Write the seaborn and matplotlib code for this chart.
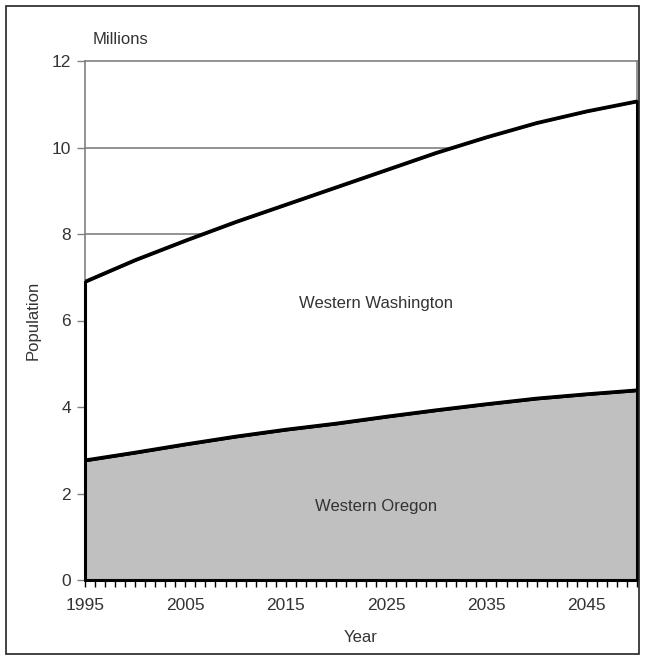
#!/usr/bin/env python3
"""Projected population, western Washington and western Oregon (stacked area)."""

import numpy as np
import pandas as pd
import matplotlib
matplotlib.use("Agg")
import matplotlib.pyplot as plt
from matplotlib.patches import Rectangle
from matplotlib.ticker import MultipleLocator
import seaborn as sns

# Data (millions)
years = [1995, 2000, 2005, 2010, 2015, 2020, 2025, 2030, 2035, 2040, 2045, 2050]
oregon = [2.77, 2.95, 3.14, 3.32, 3.48, 3.62, 3.78, 3.93, 4.07, 4.20, 4.30, 4.39]
total = [6.90, 7.40, 7.85, 8.28, 8.68, 9.08, 9.48, 9.88, 10.24, 10.57, 10.84, 11.07]
x_labels = [1995, 2005, 2015, 2025, 2035, 2045]
y_ticks = [0, 2, 4, 6, 8, 10, 12]

df = pd.DataFrame({"year": years, "oregon": oregon, "total": total})

sns.set_style("white")
plt.rcParams["font.family"] = ["Liberation Sans", "DejaVu Sans"]

fig = plt.figure(figsize=(6.45, 6.6), dpi=100)
ax = fig.add_axes([85 / 645, 1 - 580 / 660, (637 - 85) / 645, (580 - 61) / 660])

text_col = "#333333"
grid_col = "#808080"

# gridlines sit under the filled areas
for v in y_ticks[1:-1]:
    ax.axhline(v, color=grid_col, lw=1.2, zorder=0)

ax.fill_between(df["year"], 0, df["oregon"], facecolor="#c0c0c0",
                edgecolor="black", lw=2.2, zorder=1, clip_on=False)
ax.fill_between(df["year"], df["oregon"], df["total"], facecolor="white",
                edgecolor="black", lw=2.2, zorder=1, clip_on=False)
sns.lineplot(data=df, x="year", y="total", color="black", lw=2.4, ax=ax, zorder=2)
sns.lineplot(data=df, x="year", y="oregon", color="black", lw=2.4, ax=ax, zorder=2)

ax.set_xlim(1995, 2050)
ax.set_ylim(0, 12)
ax.set_xticks(x_labels)
ax.xaxis.set_minor_locator(MultipleLocator(1))
ax.set_yticks(y_ticks)
ax.tick_params(axis="x", which="both", direction="out", length=5, width=1,
               color="black", labelsize=12.5, labelcolor=text_col, pad=8, bottom=True)
ax.tick_params(axis="y", direction="out", length=6, width=1, color=grid_col,
               labelsize=12.5, labelcolor=text_col, pad=4, left=True)

for side in ["top", "right", "left"]:
    ax.spines[side].set_color(grid_col)
    ax.spines[side].set_linewidth(1.2)
    ax.spines[side].set_zorder(0.5)
ax.spines["bottom"].set_color("black")
ax.spines["bottom"].set_linewidth(2)

ax.set_xlabel("Year", fontsize=12, color=text_col, labelpad=12)
ax.set_ylabel("Population", fontsize=12, color=text_col, labelpad=8)

ax.text(2024, 6.4, "Western Washington", fontsize=12, color=text_col,
        ha="center", va="center", zorder=3)
ax.text(2024, 1.7, "Western Oregon", fontsize=12, color=text_col,
        ha="center", va="center", zorder=3)
fig.text(120 / 645, 1 - 40 / 660, "Millions", fontsize=12, color=text_col,
         ha="center", va="center")

# thin frame around the whole figure
fig.patches.append(Rectangle((6 / 645, 6 / 660), 633 / 645, 648 / 660,
                             transform=fig.transFigure, fill=False,
                             edgecolor="#222222", lw=1.2))

fig.savefig("out.png", dpi=100)
